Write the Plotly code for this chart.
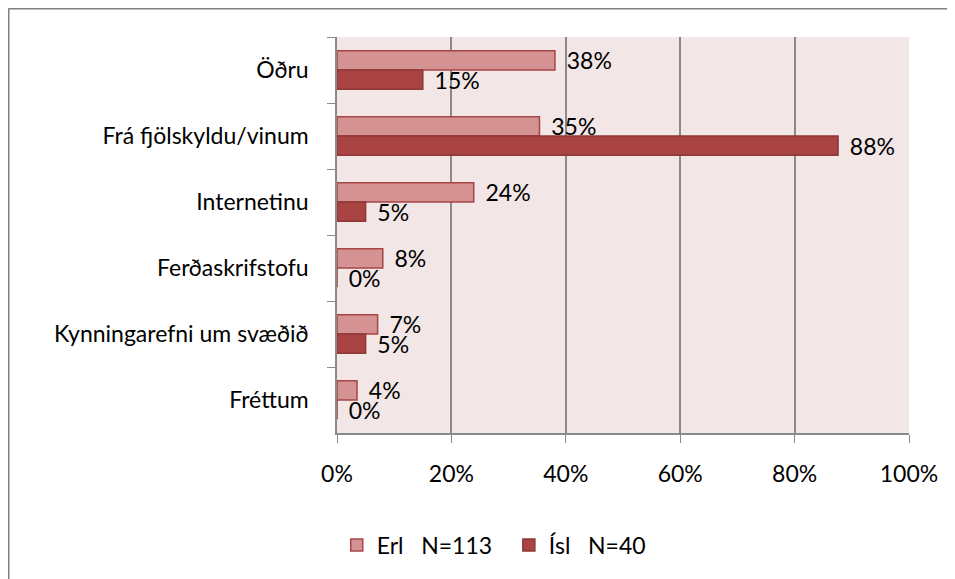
import plotly.graph_objects as go

categories = ["Öðru", "Frá fjölskyldu/vinum", "Internetinu", "Ferðaskrifstofu",
              "Kynningarefni um svæðið", "Fréttum"]
erl_values = [38.1, 35.4, 23.9, 8.0, 7.1, 3.5]
isl_values = [15.0, 87.6, 5.0, 0.0, 5.0, 0.0]
series_names = ["Erl\u00a0\u00a0\u00a0N=113\u00a0\u00a0", "Ísl\u00a0\u00a0\u00a0N=40"]

FONT = "Lato"
FS = 23
fig = go.Figure()
fig.add_trace(go.Bar(
    y=categories, x=erl_values, orientation="h", name=series_names[0],
    marker=dict(color="#D49292", line=dict(color="#A64545", width=1.5)),
    texttemplate="\u00a0\u2009%{x:.0f}%", textposition="outside", constraintext="none",
    textfont=dict(family=FONT, size=FS, color="#000000"), cliponaxis=False,
))
fig.add_trace(go.Bar(
    y=categories, x=isl_values, orientation="h", name=series_names[1],
    marker=dict(color="#A94442", line=dict(color="#8E3736", width=1.5)),
    texttemplate="\u00a0\u2009%{x:.0f}%", textposition="outside", constraintext="none",
    textfont=dict(family=FONT, size=FS, color="#000000"), cliponaxis=False,
))

# page has an 8px body margin; figure coordinates = page coordinates - 8
L, R, T, B = 329, 54, 29, 154
W, H = 955 - L - R, 579 - T - B

fig.update_layout(
    width=955, height=579,
    margin=dict(l=L, r=R, t=T, b=B),
    barmode="group", bargap=0.42, bargroupgap=0,
    paper_bgcolor="white", plot_bgcolor="#F2E6E6",
    font=dict(family=FONT, size=FS, color="#000000"),
    showlegend=True,
    legend=dict(orientation="h", x=0.274, xanchor="center", y=-(537 - (T + H)) / H,
                yanchor="middle", font=dict(family=FONT, size=FS),
                traceorder="normal", itemwidth=30),
    xaxis=dict(range=[0, 100], dtick=20, ticksuffix="%", showgrid=True,
               gridcolor="#8A8A8A", gridwidth=1.5, showline=True, linecolor="#8A8A8A",
               linewidth=1.5, ticks="outside", ticklen=8, tickcolor="#8A8A8A",
               zeroline=False, tickfont=dict(size=FS), ticklabelstandoff=12),
    yaxis=dict(autorange="reversed", showline=True, linecolor="#8A8A8A", linewidth=1.5,
               ticks="outside", ticklen=8, tickcolor="#8A8A8A", tickson="boundaries",
               showgrid=False, tickfont=dict(size=FS), ticklabelstandoff=22),
    shapes=[
        dict(type="line", xref="paper", yref="paper",
             x0=(0.5 - L) / W, x1=(955 - L) / W, y0=1 + (T - 0.5) / H, y1=1 + (T - 0.5) / H,
             line=dict(color="#808080", width=2)),
        dict(type="line", xref="paper", yref="paper",
             x0=(0.5 - L) / W, x1=(0.5 - L) / W, y0=1 + (T - 0.5) / H, y1=-(B) / H,
             line=dict(color="#808080", width=2)),
    ],
)

fig.write_html("out.html")
